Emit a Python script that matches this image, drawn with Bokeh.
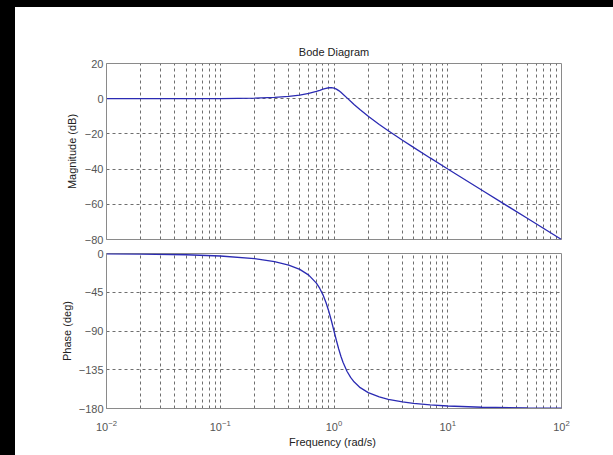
from bokeh.plotting import figure
from bokeh.models import FixedTicker, LogTickFormatter, Range1d, Div
from bokeh.layouts import column, row
from bokeh.embed import file_html
from bokeh.resources import INLINE

# ---- data ----
freq = [0.01, 0.02, 0.05, 0.1, 0.2, 0.3, 0.4, 0.5, 0.6, 0.7, 0.75, 0.8, 0.85, 0.9, 0.95,
        1.0, 1.05, 1.1, 1.15, 1.2, 1.3, 1.4, 1.5, 1.7, 2.0, 2.5, 3.0, 4.0, 5.0, 7.0,
        10.0, 20.0, 50.0, 100.0]
mag_db = [0.0, 0.003, 0.019, 0.076, 0.31, 0.70, 1.28, 2.04, 3.01, 4.17, 4.79, 5.38, 5.89, 6.22, 6.29,
          6.02, 5.44, 4.60, 3.62, 2.57, 0.46, -1.50, -3.27, -6.33, -10.0, -14.64, -18.21, -23.60, -27.65, -33.65,
          -39.92, -52.02, -67.96, -80.0]
phase_deg = [-0.29, -0.57, -1.44, -2.89, -5.95, -9.36, -13.39, -18.43, -25.11, -34.46, -40.60, -48.01, -56.85, -67.11, -78.40,
             -90.0, -101.05, -110.9, -119.29, -126.25, -136.71, -143.90, -149.04, -155.79, -161.57, -166.61, -169.38, -172.41, -174.05, -175.83,
             -177.11, -178.56, -179.43, -179.71]

freq_ticks = [0.01, 0.1, 1, 10, 100]
freq_minor = [m * d for d in [0.01, 0.1, 1, 10] for m in range(2, 10)]
mag_ticks = [20, 0, -20, -40, -60, -80]
phase_ticks = [0, -45, -90, -135, -180]

title_text = "Bode Diagram"
mag_label = "Magnitude (dB)"
phase_label = "Phase (deg)"
freq_label = "Frequency  (rad/s)"

FONT = "Liberation Sans"
LINE_COLOR = "#2b2bb3"
GRID_COLOR = "#6e6e6e"
BOX_COLOR = "#8a8a8a"


def style(p, yticks, ylabel):
    xt = FixedTicker(ticks=freq_ticks, minor_ticks=freq_minor)
    p.xaxis.ticker = xt
    p.xgrid.ticker = xt
    yt = FixedTicker(ticks=yticks)
    p.yaxis.ticker = yt
    p.ygrid.ticker = yt
    for g in (p.xgrid, p.ygrid):
        g.grid_line_color = GRID_COLOR
        g.grid_line_dash = "3 3"
        g.grid_line_width = 1
    p.xgrid.minor_grid_line_color = GRID_COLOR
    p.xgrid.minor_grid_line_dash = "3 3"
    p.outline_line_color = BOX_COLOR
    p.outline_line_width = 1
    for ax in (p.xaxis, p.yaxis):
        ax.axis_line_color = BOX_COLOR
        ax.major_tick_out = 0
        ax.major_tick_in = 0
        ax.minor_tick_out = 0
        ax.minor_tick_in = 0
        ax.major_label_text_font = FONT
        ax.major_label_text_font_size = "11px"
        ax.major_label_text_color = "#555555"
        ax.axis_label_text_font = FONT
        ax.axis_label_text_font_size = "11px"
        ax.axis_label_text_font_style = "normal"
        ax.axis_label_text_color = "#222222"
    p.yaxis.axis_label = ylabel
    p.yaxis.major_label_standoff = 3


p1 = figure(width=598, height=239, x_axis_type="log",
            x_range=Range1d(0.01, 100), y_range=Range1d(-80, 20),
            output_backend="svg", toolbar_location=None,
            min_border_left=91, min_border_right=52, min_border_top=56, min_border_bottom=7)
style(p1, mag_ticks, mag_label)
p1.yaxis.axis_label_standoff = 4
p1.xaxis.visible = False
p1.title.text = title_text
p1.title.align = "center"
p1.title.text_font = FONT
p1.title.text_font_size = "11px"
p1.title.text_font_style = "normal"
p1.title.text_color = "#222222"
p1.title.standoff = 12
p1.line(freq, mag_db, line_color=LINE_COLOR, line_width=1.3)

p2 = figure(width=598, height=209, x_axis_type="log",
            x_range=Range1d(0.01, 100), y_range=Range1d(-180, 0),
            output_backend="svg", toolbar_location=None,
            min_border_left=91, min_border_right=52, min_border_top=7, min_border_bottom=47)
style(p2, phase_ticks, phase_label)
p2.yaxis.axis_label_standoff = 3
p2.xaxis.formatter = LogTickFormatter()
p2.xaxis.axis_label = freq_label
p2.xaxis.major_label_standoff = 11
p2.xaxis.axis_label_standoff = 2
p2.line(freq, phase_deg, line_color=LINE_COLOR, line_width=1.3)

# dark frame strips seen along the top and left edges of the picture
top_strip = Div(width=613, height=7, margin=0, styles={"background-color": "black"})
left_strip = Div(width=15, height=448, margin=0, styles={"background-color": "black"})

layout = column(top_strip, row(left_strip, column(p1, p2, spacing=0), spacing=0), spacing=0)
open("out.html", "w").write(file_html(layout, INLINE))
